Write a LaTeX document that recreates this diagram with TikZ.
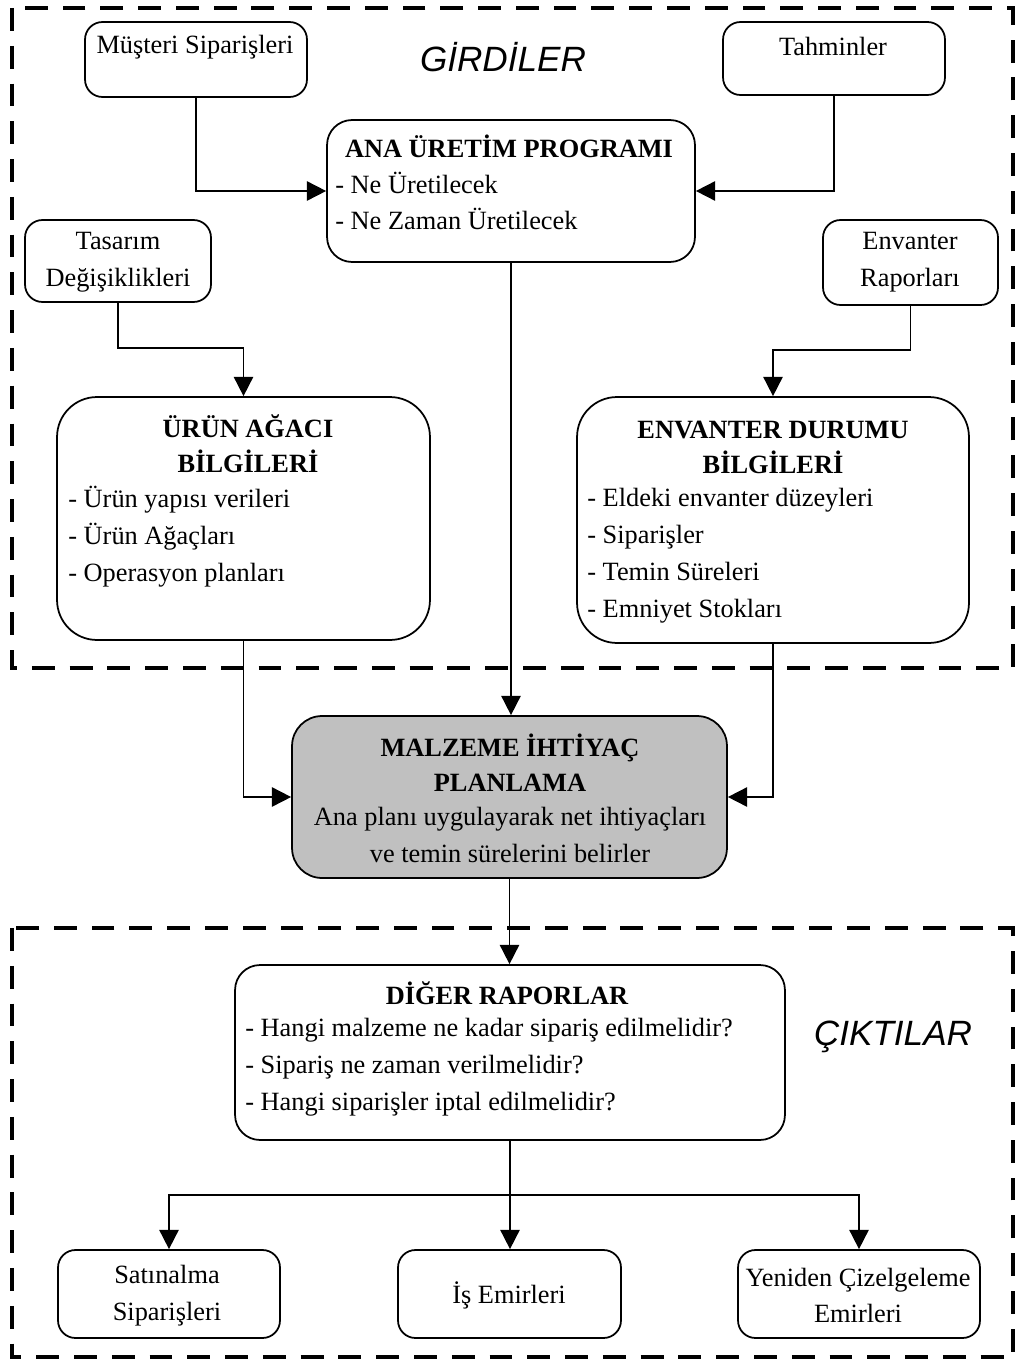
\documentclass[tikz,border=0pt]{standalone}
\usepackage{fontspec}
\setmainfont{Liberation Serif}
\newfontfamily\labelsans{Liberation Sans}
\usetikzlibrary{arrows.meta}
\begin{document}
\begin{tikzpicture}[x=0.02cm,y=-0.02cm,
  box/.style={draw,line width=1pt,rounded corners=#1,inner sep=0pt,fill=white},
  box/.default=0.35cm,
  txt/.style={inner sep=0pt,font=\fontsize{15pt}{21pt}\selectfont},
  ttl/.style={inner sep=0pt,align=center,font=\fontsize{15pt}{20pt}\selectfont\bfseries},
  conn/.style={line width=1pt,-{Triangle[length=11pt,width=11pt]}},
  frame/.style={line width=2.8pt,dash pattern=on 13pt off 8.5pt},
  zone/.style={inner sep=0pt,font=\labelsans\itshape\fontsize{20pt}{24pt}\selectfont}
]
\useasboundingbox (0,0) rectangle (1017,1362);

% input and output zones
\draw[frame] (12,8) rectangle (1013,668);
\draw[frame] (12,928) rectangle (1013,1357);
\node[zone] (girdi) at (503,57) {GİRDİLER};
\node[zone] (cikti) at (893,1037) {ÇIKTILAR};

% boxes
\node[box, minimum width=4.44cm, minimum height=1.5cm] (mus) at (196,59.5) {};
\node[box, minimum width=4.44cm, minimum height=1.46cm] (tah) at (834,58.5) {};
\node[box=0.5cm, minimum width=7.36cm, minimum height=2.84cm] (ana) at (511,191) {};
\node[box, minimum width=3.72cm, minimum height=1.64cm] (tas) at (118,261) {};
\node[box, minimum width=3.5cm, minimum height=1.7cm] (env) at (910.5,262.5) {};
\node[box=0.8cm, minimum width=7.46cm, minimum height=4.86cm] (uru) at (243.5,518.5) {};
\node[box=0.8cm, minimum width=7.84cm, minimum height=4.92cm] (edb) at (773,520) {};
\node[box=0.6cm, minimum width=8.7cm, minimum height=3.24cm, fill={rgb,255:red,192;green,192;blue,192}] (mrp) at (509.5,797) {};
\node[box=0.5cm, minimum width=11cm, minimum height=3.5cm] (dig) at (510,1052.5) {};
\node[box, minimum width=4.44cm, minimum height=1.76cm] (sat) at (169,1294) {};
\node[box, minimum width=4.46cm, minimum height=1.76cm] (is) at (509.5,1294) {};
\node[box, minimum width=4.84cm, minimum height=1.76cm] (yen) at (859,1294) {};

% texts
\node[txt] (mustxt) at (195,47) {Müşteri Siparişleri};
\node[txt] (tahtxt) at (833,46) {Tahminler};
\node[ttl] (anattl) at (509,146) {ANA ÜRETİM PROGRAMI};
\node[txt,align=left,anchor=west] (anaitm) at (335,201) {- Ne Üretilecek\\- Ne Zaman Üretilecek};
\node[txt,align=center] (tastxt) at (118,262) {Tasarım\\Değişiklikleri};
\node[txt,align=center] (envtxt) at (910,262) {Envanter\\Raporları};
\node[ttl] (uruttl) at (248,444) {ÜRÜN AĞACI\\BİLGİLERİ};
\node[txt,align=left,anchor=west] (uruitm) at (68,537) {- Ürün yapısı verileri\\- Ürün Ağaçları\\- Operasyon planları};
\node[ttl] (edbttl) at (773,447) {ENVANTER DURUMU\\BİLGİLERİ};
\node[txt,align=left,anchor=west] (edbitm) at (587,555.5) {- Eldeki envanter düzeyleri\\- Siparişler\\- Temin Süreleri\\- Emniyet Stokları};
\node[ttl] (mrpttl) at (510,762.5) {MALZEME İHTİYAÇ\\PLANLAMA};
\node[txt,align=center] (mrptxt) at (510,835) {Ana planı uygulayarak net ihtiyaçları\\ve temin sürelerini belirler};
\node[ttl] (digttl) at (507,993) {DİĞER RAPORLAR};
\node[txt,align=left,anchor=west] (digitm) at (245,1067) {- Hangi malzeme ne kadar sipariş edilmelidir?\\- Sipariş ne zaman verilmelidir?\\- Hangi siparişler iptal edilmelidir?};
\node[txt,align=center] (sattxt) at (167,1295.5) {Satınalma\\Siparişleri};
\node[txt] (istxt) at (509,1295) {İş Emirleri};
\node[txt,align=center] (yentxt) at (858,1295.5) {Yeniden Çizelgeleme\\Emirleri};

% connectors
\coordinate (tasj) at (118,348);
\coordinate (envj) at (910.5,350);
\coordinate (brj) at (510,1195);
\draw[conn] (mus.south) |- (ana.west);
\draw[conn] (tah.south) |- (ana.east);
\draw[conn] (tas.south) -- (tasj) -| (uru.north);
\draw[conn] (env.south) -- (envj) -| (edb.north);
\draw[conn] (ana.south) -- (ana.south |- mrp.north);
\draw[conn] (uru.south) |- (mrp.west);
\draw[conn] (edb.south) |- (mrp.east);
\draw[conn] (mrp.south) -- (mrp.south |- dig.north);
\draw[conn] (dig.south) -- (dig.south |- is.north);
\draw[conn] (brj) -| (sat.north);
\draw[conn] (brj) -| (yen.north);
\end{tikzpicture}
\end{document}
